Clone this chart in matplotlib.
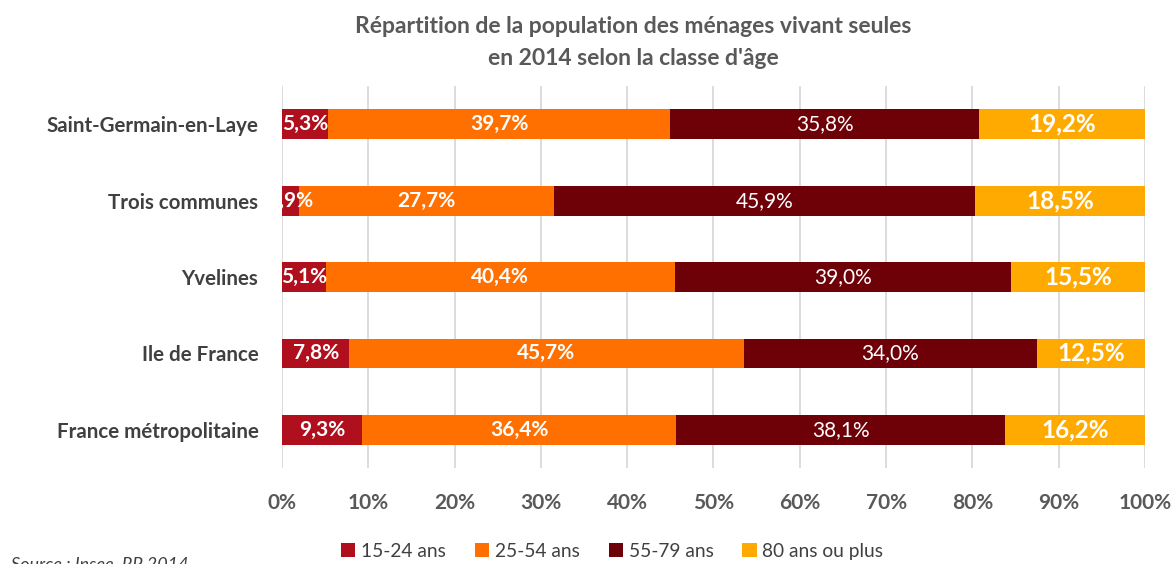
import matplotlib
matplotlib.use("Agg")
import matplotlib.pyplot as plt
import numpy as np

plt.rcParams['font.family'] = ['Lato', 'DejaVu Sans']

categories = ["Saint-Germain-en-Laye", "Trois communes", "Yvelines",
              "Ile de France", "France métropolitaine"]
series_names = ["15-24 ans", "25-54 ans", "55-79 ans", "80 ans ou plus"]
v_15_24 = [5.3, 1.9, 5.1, 7.8, 9.3]
v_25_54 = [39.7, 27.7, 40.4, 45.7, 36.4]
v_55_79 = [35.8, 45.9, 39.0, 34.0, 38.1]
v_80 = [19.2, 18.5, 15.5, 12.5, 16.2]
colors = ["#B0101E", "#FF7000", "#6E0008", "#FFAA00"]
label_bold = [True, True, False, True]
label_size = [15, 15, 15, 17.5]

data = np.array([v_15_24, v_25_54, v_55_79, v_80], dtype=float)
totals = data.sum(axis=0)
shares = data / totals * 100.0

fig = plt.figure(figsize=(11.73, 5.64), dpi=100)
ax = fig.add_axes([0.2404, 0.1702, 0.9761 - 0.2404, 0.8475 - 0.1702])

y = np.arange(len(categories))
left = np.zeros(len(categories))
for i, name in enumerate(series_names):
    ax.barh(y, shares[i], left=left, height=0.39, color=colors[i],
            label=name, zorder=3)
    for j in range(len(categories)):
        txt = f"{data[i, j]:.1f}%".replace(".", ",")
        ax.text(left[j] + shares[i, j] / 2, y[j], txt, ha="center", va="center",
                color="white", fontsize=label_size[i],
                fontweight="bold" if label_bold[i] else "normal", zorder=4)
    left = left + shares[i]

ax.set_xlim(0, 100)
ax.set_ylim(4.5, -0.5)
ax.set_xticks(np.arange(0, 101, 10))
ax.set_xticklabels([f"{t}%" for t in range(0, 101, 10)], fontsize=15,
                   fontweight="bold", color="#595959")
ax.set_yticks(y)
ax.set_yticklabels(categories, fontsize=14.8, fontweight="bold", color="#404040")
ax.tick_params(axis="both", length=0)
ax.tick_params(axis="x", pad=18)
ax.tick_params(axis="y", pad=17)
ax.grid(axis="x", color="#D9D9D9", linewidth=1.3, zorder=0)
for s in ax.spines.values():
    s.set_visible(False)

fig.text(0.54, 0.953, "Répartition de la population des ménages vivant seules",
         ha="center", va="center", fontsize=16.5, fontweight="bold", color="#595959")
fig.text(0.54, 0.897, "en 2014 selon la classe d'âge",
         ha="center", va="center", fontsize=16.5, fontweight="bold", color="#595959")

leg = fig.legend(loc="center", bbox_to_anchor=(0.522, 0.022), ncol=4, frameon=False,
                 fontsize=13.8, handlelength=0.75, handleheight=0.75,
                 handletextpad=0.3, columnspacing=1.5)
for t in leg.get_texts():
    t.set_color("#404040")

fig.text(0.009, -0.016, "Source : Insee, RP 2014", ha="left", va="bottom",
         fontsize=13, style="italic", color="#404040")

fig.savefig("out.png", dpi=100)
